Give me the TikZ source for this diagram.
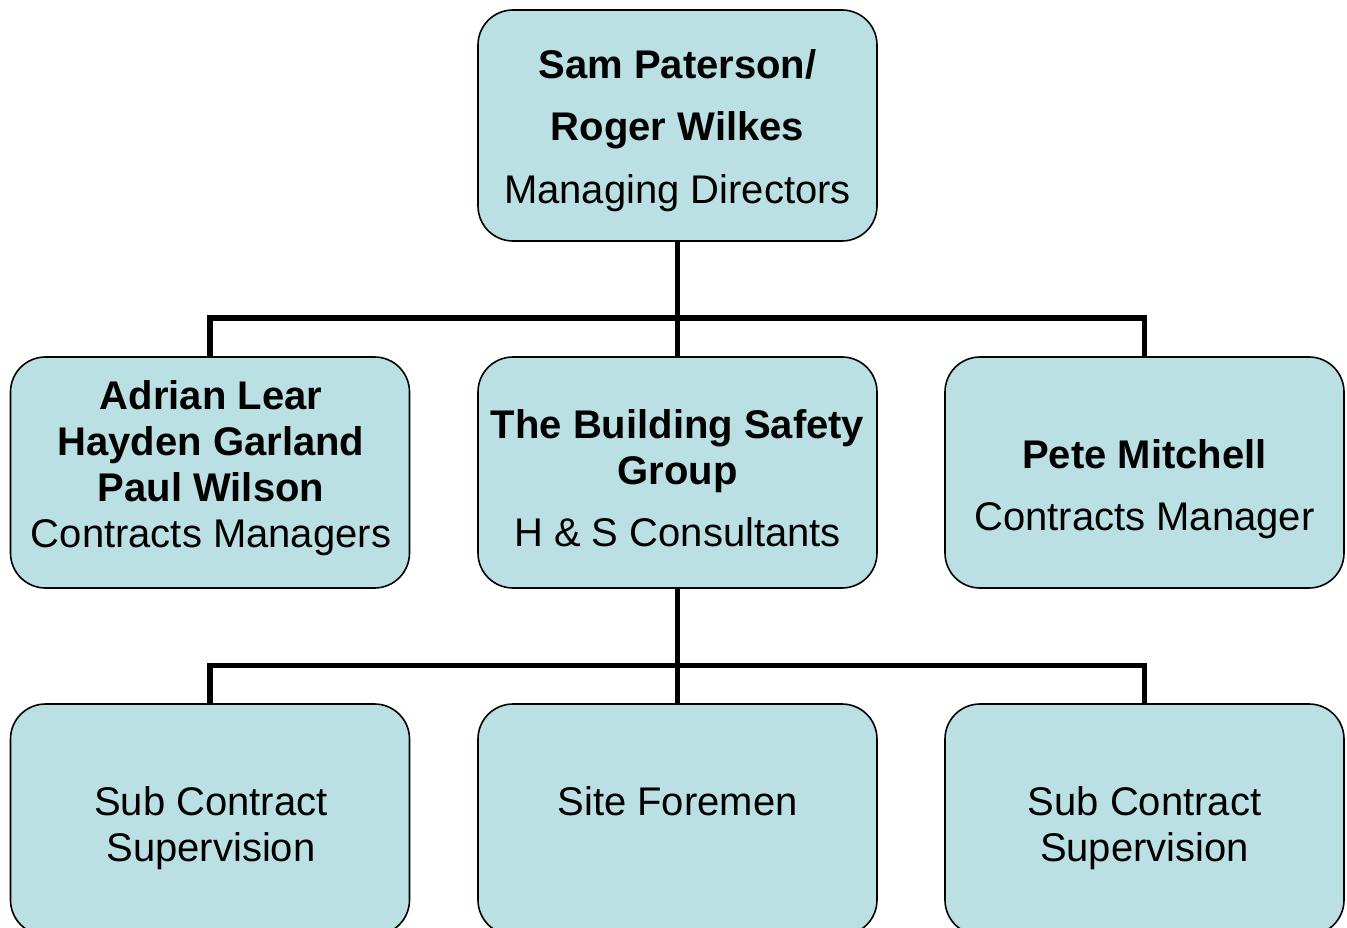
\documentclass[tikz,border=0pt]{standalone}
\usepackage{fontspec}
\setmainfont{Liberation Sans}
\definecolor{boxfill}{RGB}{186,224,227}
\begin{document}
\begin{tikzpicture}[x=1pt,y=-1pt,
  box/.style={draw=black, line width=1.6pt, fill=boxfill, rounded corners=35pt,
    minimum width=399pt, minimum height=231pt, inner sep=0pt},
  conn/.style={line width=5.5pt, line join=miter},
  txt/.style={anchor=base, inner sep=0pt, font=\fontsize{40}{46}\selectfont},
  btxt/.style={anchor=base, inner sep=0pt, font=\fontsize{40}{46}\selectfont\bfseries}]
\useasboundingbox (0,0) rectangle (1347,928);
\clip (0,0) rectangle (1347,928);
% boxes
\node[box] (md)  at (677.5,125.5) {};
\node[box] (cml) at (210,472.5) {};
\node[box] (bsg) at (677.5,472.5) {};
\node[box] (pm)  at (1144.5,472.5) {};
\node[box] (scl) at (210,819.5) {};
\node[box] (sf)  at (677.5,819.5) {};
\node[box] (scr) at (1144.5,819.5) {};
% connectors
\coordinate (j1) at (677.5,318);
\coordinate (j2) at (677.5,665.5);
\draw[conn] (md.south) -- (j1) -- (bsg.north);
\draw[conn] (cml.north) |- (j1) -| (pm.north);
\draw[conn] (bsg.south) -- (j2) -- (sf.north);
\draw[conn] (scl.north) |- (j2) -| (scr.north);
% texts
\node[btxt] (t1) at (677.5,79) {Sam Paterson/};
\node[btxt] (t2) at (677.5,141) {Roger Wilkes};
\node[txt]  (t3) at (677.5,203.5) {Managing Directors};
\node[btxt] (l1) at (211,409) {Adrian Lear};
\node[btxt] (l2) at (211,455) {Hayden Garland};
\node[btxt] (l3) at (211,501) {Paul Wilson};
\node[txt]  (l4) at (211,547) {Contracts Managers};
\node[btxt] (c1) at (677.5,438.5) {The Building Safety};
\node[btxt] (c2) at (677.5,484.5) {Group};
\node[txt]  (c3) at (677.5,546) {H \& S Consultants};
\node[btxt] (r1) at (1144.5,468.5) {Pete Mitchell};
\node[txt]  (r2) at (1144.5,530.5) {Contracts Manager};
\node[txt]  (b1) at (211,815.5) {Sub Contract};
\node[txt]  (b2) at (211,861) {Supervision};
\node[txt]  (b3) at (677.5,815.5) {Site Foremen};
\node[txt]  (b4) at (1144.5,815.5) {Sub Contract};
\node[txt]  (b5) at (1144.5,861) {Supervision};
\end{tikzpicture}
\end{document}
